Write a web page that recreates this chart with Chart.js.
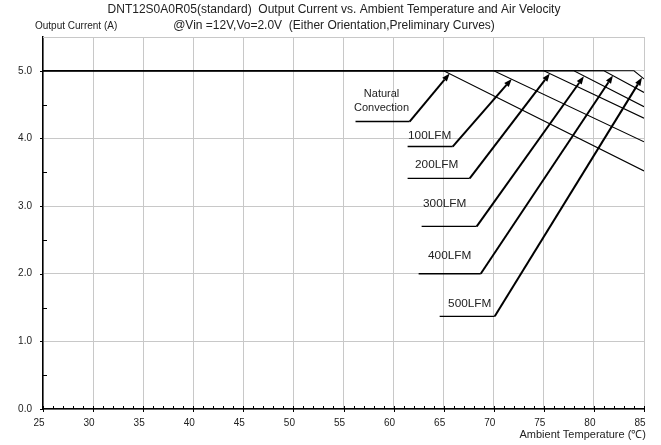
<!DOCTYPE html>
<html lang="en">
<head>
    <meta charset="UTF-8">
    <title>DNT12S0A0R05 Derating Curves</title>
    <script src="https://cdn.jsdelivr.net/npm/chart.js"></script>
    <style>
        body { margin: 0; background: #fff; }
        canvas { display: block; }
    </style>
</head>
<body>
    <canvas id="derating" width="661" height="445"></canvas>

    <script>
        // curve data
        const seriesNames = ["Natural Convection", "100LFM", "200LFM", "300LFM", "400LFM", "500LFM"];
        const startTemp = 25;
        const endTemp = 85;
        const maxCurrent = 5.0;
        const kneeTemps = [65, 70, 75, 78, 81, 84];
        const endCurrents = [3.52, 3.95, 4.3, 4.47, 4.68, 4.88];

        const xTicks = [25, 30, 35, 40, 45, 50, 55, 60, 65, 70, 75, 80, 85];
        const yTicks = [0, 1, 2, 3, 4, 5];
        const yMax = 5.5;

        // label callouts (text, text position, leader line, arrow tip) in data units
        const calloutText = [["Natural", "Convection"], ["100LFM"], ["200LFM"], ["300LFM"], ["400LFM"], ["500LFM"]];
        const calloutTextX = [58.8, 63.6, 64.3, 65.1, 65.6, 67.6];
        const calloutTextY = [4.66, 4.04, 3.61, 3.04, 2.27, 1.56];
        const leaderFrom = [56.2, 61.4, 61.4, 62.8, 62.5, 64.6];
        const leaderTo = [61.6, 65.9, 67.6, 68.3, 68.7, 70.1];
        const leaderY = [4.25, 3.88, 3.41, 2.70, 2.00, 1.37];
        const tipX = [65.6, 71.8, 75.6, 79.0, 81.9, 84.8];
        const tipY = [4.96, 4.88, 4.96, 4.92, 4.93, 4.9];

        const gridColor = "#c8c8c8";
        const font = "'Liberation Sans', Arial, sans-serif";

        const datasets = seriesNames.map((name, i) => ({
            label: name,
            data: [
                { x: startTemp, y: maxCurrent },
                { x: kneeTemps[i], y: maxCurrent },
                { x: endTemp, y: endCurrents[i] }
            ],
            borderColor: "#000",
            borderWidth: 1.1,
            pointRadius: 0,
            tension: 0,
            fill: false
        }));

        const decorPlugin = {
            id: "decor",
            afterDatasetsDraw(chart) {
                const ctx = chart.ctx;
                const xs = chart.scales.x, ys = chart.scales.y;
                const area = chart.chartArea;
                ctx.save();

                // top border
                ctx.strokeStyle = gridColor;
                ctx.lineWidth = 1;
                ctx.beginPath();
                ctx.moveTo(area.left, area.top + 0.5);
                ctx.lineTo(area.right, area.top + 0.5);
                ctx.stroke();

                // minor ticks
                ctx.strokeStyle = "#000";
                ctx.lineWidth = 1;
                ctx.beginPath();
                for (let t = startTemp; t <= endTemp; t++) {
                    const px = Math.round(xs.getPixelForValue(t)) + 0.5;
                    ctx.moveTo(px, area.bottom);
                    ctx.lineTo(px, area.bottom - 3);
                    if (t % 5 === 0) {
                        ctx.moveTo(px, area.bottom);
                        ctx.lineTo(px, area.bottom + 3);
                    }
                }
                for (let v = 0; v <= 5; v += 0.5) {
                    const py = Math.round(ys.getPixelForValue(v)) + 0.5;
                    if (v % 1 === 0) {
                        ctx.moveTo(area.left - 3, py);
                        ctx.lineTo(area.left, py);
                    } else {
                        ctx.moveTo(area.left, py);
                        ctx.lineTo(area.left + 4, py);
                    }
                }
                ctx.stroke();

                // callouts
                ctx.fillStyle = "#222";
                ctx.textAlign = "center";
                ctx.textBaseline = "middle";
                calloutText.forEach((lines, i) => {
                    const tx = xs.getPixelForValue(calloutTextX[i]);
                    const ty = ys.getPixelForValue(calloutTextY[i]);
                    ctx.font = (lines.length > 1 ? "11px " : "11.8px ") + font;
                    lines.forEach((s, k) => ctx.fillText(s, tx, ty + k * 14));

                    const ly = ys.getPixelForValue(leaderY[i]);
                    const lx0 = xs.getPixelForValue(leaderFrom[i]);
                    const lx1 = xs.getPixelForValue(leaderTo[i]);
                    const ax = xs.getPixelForValue(tipX[i]);
                    const ay = ys.getPixelForValue(tipY[i]);

                    ctx.strokeStyle = "#000";
                    ctx.lineWidth = 1.4;
                    ctx.beginPath();
                    ctx.moveTo(lx0, ly);
                    ctx.lineTo(lx1, ly);
                    ctx.stroke();

                    const ang = Math.atan2(ay - ly, ax - lx1);
                    const headLen = 8, headW = 3;
                    const bx = ax - headLen * Math.cos(ang);
                    const by = ay - headLen * Math.sin(ang);
                    ctx.lineWidth = 2;
                    ctx.beginPath();
                    ctx.moveTo(lx1, ly);
                    ctx.lineTo(bx, by);
                    ctx.stroke();

                    ctx.fillStyle = "#000";
                    ctx.beginPath();
                    ctx.moveTo(ax, ay);
                    ctx.lineTo(bx + headW * Math.sin(ang), by - headW * Math.cos(ang));
                    ctx.lineTo(bx - headW * Math.sin(ang), by + headW * Math.cos(ang));
                    ctx.closePath();
                    ctx.fill();
                    ctx.fillStyle = "#222";
                });
                ctx.restore();
            },
            afterDraw(chart) {
                const ctx = chart.ctx;
                ctx.save();
                ctx.fillStyle = "#222";
                ctx.textBaseline = "middle";
                ctx.font = "12px " + font;
                ctx.textAlign = "center";
                ctx.fillText("DNT12S0A0R05(standard)  Output Current vs. Ambient Temperature and Air Velocity", 334, 10);
                ctx.fillText("@Vin =12V,Vo=2.0V  (Either Orientation,Preliminary Curves)", 334, 26);
                ctx.font = "10px " + font;
                ctx.textAlign = "left";
                ctx.fillText("Output Current (A)", 35, 26);
                ctx.textAlign = "right";
                ctx.font = "11px " + font;
                ctx.fillText("Ambient Temperature (\u2103)", 646, 435);
                ctx.restore();
            }
        };

        new Chart(document.getElementById("derating"), {
            type: "line",
            data: { datasets: datasets },
            options: {
                responsive: false,
                animation: false,
                layout: { padding: { top: 37, right: 17, left: 0, bottom: 0 } },
                plugins: {
                    legend: { display: false },
                    tooltip: { enabled: false },
                    title: { display: false }
                },
                scales: {
                    x: {
                        type: "linear",
                        min: startTemp,
                        max: endTemp,
                        afterBuildTicks: (scale) => { scale.ticks = xTicks.map(v => ({ value: v })); },
                        afterFit: (scale) => { scale.height = 36; },
                        grid: { color: gridColor, lineWidth: 1, drawTicks: false },
                        border: { color: "#000", width: 1.5 },
                        ticks: {
                            padding: 8,
                            labelOffset: -4,
                            maxRotation: 0,
                            color: "#222",
                            font: { family: font, size: 10 },
                            callback: (v) => String(v)
                        }
                    },
                    y: {
                        min: 0,
                        max: yMax,
                        afterBuildTicks: (scale) => { scale.ticks = yTicks.map(v => ({ value: v })); },
                        afterFit: (scale) => { scale.width = 43; },
                        grid: { color: gridColor, lineWidth: 1, drawTicks: false },
                        border: { color: "#000", width: 1.5 },
                        ticks: {
                            padding: 11,
                            color: "#222",
                            font: { family: font, size: 10 },
                            callback: (v) => Number(v).toFixed(1)
                        }
                    }
                }
            },
            plugins: [decorPlugin]
        });
    </script>
</body>
</html>
